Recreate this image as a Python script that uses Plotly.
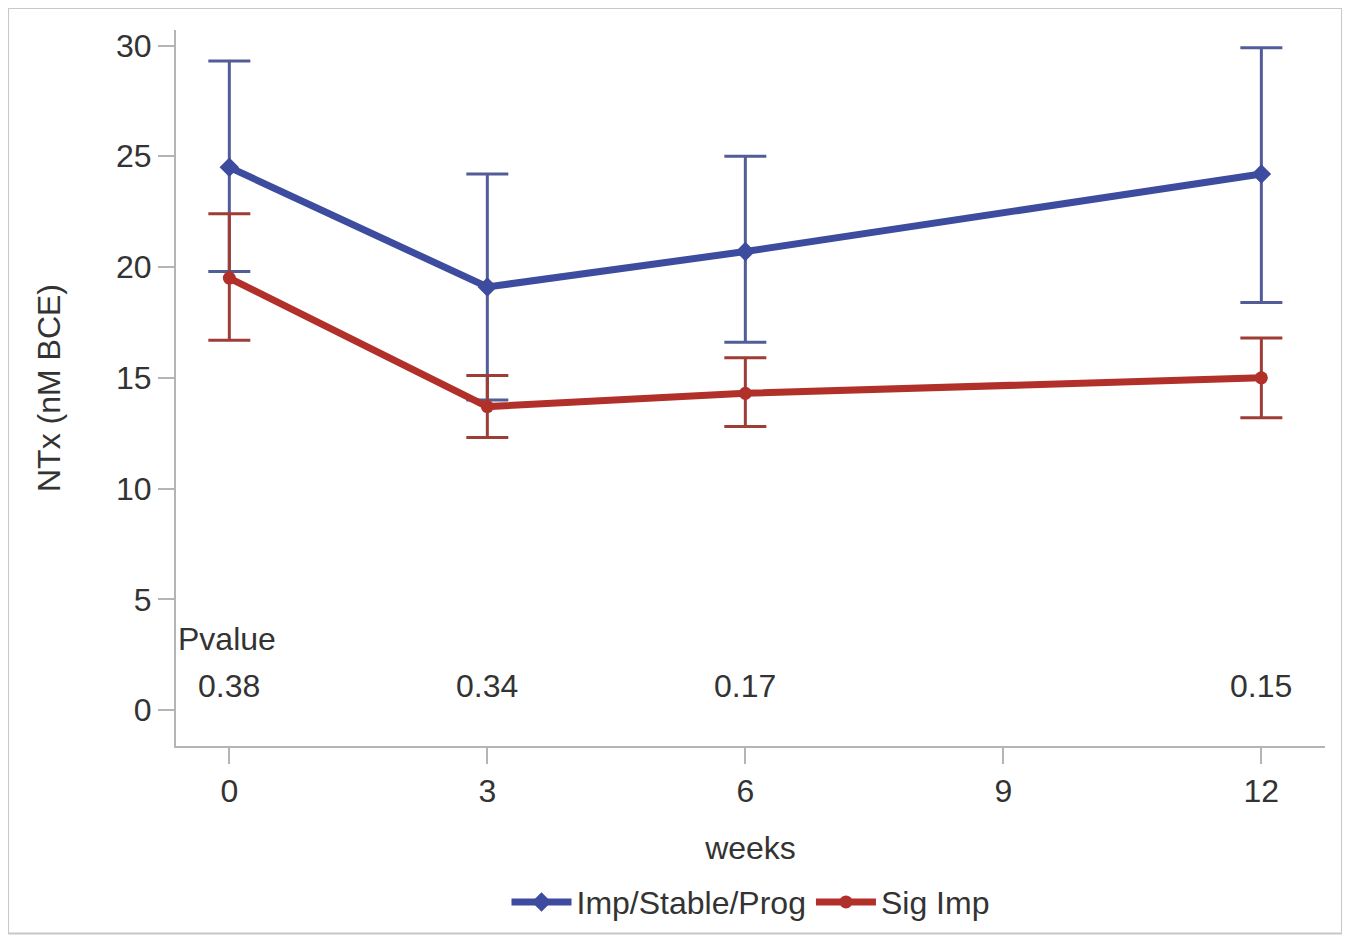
import plotly.graph_objects as go

weeks = [0, 3, 6, 12]
blue_name = "Imp/Stable/Prog"
blue_mean = [24.5, 19.1, 20.7, 24.2]
blue_upper = [29.3, 24.2, 25.0, 29.9]
blue_lower = [19.8, 14.0, 16.6, 18.4]

red_name = "Sig Imp"
red_mean = [19.5, 13.7, 14.3, 15.0]
red_upper = [22.4, 15.1, 15.9, 16.8]
red_lower = [16.7, 12.3, 12.8, 13.2]

pvalues = ["0.38", "0.34", "0.17", "0.15"]
x_ticks = [0, 3, 6, 9, 12]
y_ticks = [0, 5, 10, 15, 20, 25, 30]

BLUE = "#3D4C9E"
RED = "#B1302A"
BLUE_ERR = "#525D98"
RED_ERR = "#9E3C36"
FONT = "Liberation Sans, Arial, sans-serif"
TXT = "#333333"
AX = "#B4B4B4"
FS = 32

fig = go.Figure()


def add_series(name, mean, upper, lower, color, ecolor, symbol, msize):
    fig.add_trace(go.Scatter(
        x=weeks, y=mean, name=name, mode="lines+markers",
        line=dict(color=color, width=7),
        marker=dict(symbol=symbol, size=msize, color=color),
        error_y=dict(type="data", symmetric=False,
                     array=[u - m for u, m in zip(upper, mean)],
                     arrayminus=[m - l for m, l in zip(mean, lower)],
                     color=ecolor, thickness=3, width=21),
    ))


add_series(blue_name, blue_mean, blue_upper, blue_lower, BLUE, BLUE_ERR, "diamond", 15)
add_series(red_name, red_mean, red_upper, red_lower, RED, RED_ERR, "circle", 13)

fig.add_annotation(x=-0.62, y=3.2, xref="x", yref="y", text="Pvalue", showarrow=False,
                   xanchor="left", font=dict(family=FONT, size=FS, color=TXT))
for w, p in zip(weeks, pvalues):
    fig.add_annotation(x=w, y=1.1, xref="x", yref="y", text=p, showarrow=False,
                       xanchor="center", font=dict(family=FONT, size=FS, color=TXT))

fig.add_shape(type="rect", xref="paper", yref="paper",
              x0=-0.1462, x1=1.0148, y0=-0.262, y1=1.0306,
              line=dict(color="#C8C8C8", width=2), layer="below")

fig.update_layout(
    width=1342, height=934,
    margin=dict(l=168, r=25, t=22, b=194),
    paper_bgcolor="white", plot_bgcolor="white",
    font=dict(family=FONT, size=FS, color=TXT),
    showlegend=True,
    legend=dict(orientation="h", x=0.5, xanchor="center", y=-0.218, yanchor="middle",
                font=dict(family=FONT, size=FS, color=TXT), itemwidth=60),
    xaxis=dict(range=[-0.62, 12.74], tickvals=x_ticks, showgrid=False, zeroline=False,
               showline=True, linecolor=AX, linewidth=2,
               ticks="outside", ticklen=16, tickcolor=AX, tickwidth=2,
               tickfont=dict(family=FONT, size=FS, color=TXT),
               title=dict(text="weeks", font=dict(family=FONT, size=FS, color=TXT), standoff=28)),
    yaxis=dict(range=[-1.62, 30.7], tickvals=y_ticks, showgrid=False, zeroline=False,
               showline=True, linecolor=AX, linewidth=2,
               ticks="outside", ticklen=16, tickcolor=AX, tickwidth=2,
               tickfont=dict(family=FONT, size=FS, color=TXT),
               title=dict(text="NTx (nM BCE)", font=dict(family=FONT, size=FS, color=TXT), standoff=46)),
)

fig.write_html("out.html")
